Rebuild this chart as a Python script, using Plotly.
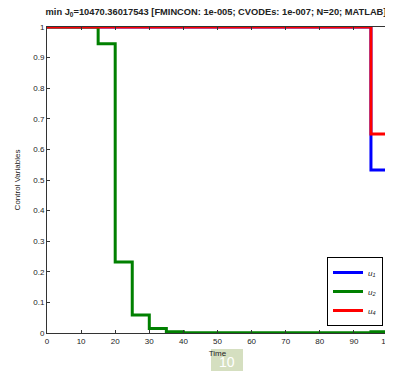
import plotly.graph_objects as go

# Time grid (N=20 intervals of length 5)
time = [0, 5, 10, 15, 20, 25, 30, 35, 40, 45, 50, 55, 60, 65, 70, 75, 80, 85, 90, 95, 100]

# Piecewise-constant control values per interval (last value repeated at end)
u1 = [1, 1, 1, 1, 1, 1, 1, 1, 1, 1, 1, 1, 1, 1, 1, 1, 1, 1, 1, 0.533, 0.533]
u2 = [1, 1, 1, 0.945, 0.232, 0.059, 0.015, 0.004, 0.001, 0.001, 0.001, 0.001, 0.001,
      0.001, 0.001, 0.001, 0.001, 0.001, 0.001, 0.004, 0.004]
u4 = [1, 1, 1, 1, 1, 1, 1, 1, 1, 1, 1, 1, 1, 1, 1, 1, 1, 1, 1, 0.65, 0.65]

series = [("u<sub>1</sub>", u1, "#0000ff"),
          ("u<sub>2</sub>", u2, "#008000"),
          ("u<sub>4</sub>", u4, "#ff0000")]

x_ticks = [0, 10, 20, 30, 40, 50, 60, 70, 80, 90, 100]
y_ticks = [0, 0.1, 0.2, 0.3, 0.4, 0.5, 0.6, 0.7, 0.8, 0.9, 1]
y_tick_text = ["0", "0.1", "0.2", "0.3", "0.4", "0.5", "0.6", "0.7", "0.8", "0.9", "1"]

fig = go.Figure()
for name, vals, col in series:
    fig.add_trace(go.Scatter(x=time, y=vals, mode="lines", line_shape="hv",
                             name="<i>" + name + "</i>",
                             line=dict(color=col, width=3)))

axis_common = dict(showline=True, linecolor="#333333", linewidth=1, mirror="ticks",
                   ticks="inside", ticklen=3, tickcolor="#333333", showgrid=False,
                   zeroline=False, tickfont=dict(size=8, color="#222222"))

# page body has an 8px margin, so the figure is sized to fit within the window
W, H = 385, 363
L, R, T, B = 39, 5, 19, 38
pw, ph = W - L - R, H - T - B

fig.update_layout(
    width=W, height=H,
    margin=dict(l=L, r=R, t=T, b=B, autoexpand=False),
    paper_bgcolor="white", plot_bgcolor="white",
    font=dict(family="Liberation Sans, Arial, sans-serif", size=8, color="#222222"),
    title=dict(text="<b>min J<sub>0</sub>=10470.36017543 [FMINCON: 1e-005; CVODEs: 1e-007; N=20; MATLAB]</b>",
               x=(216 - 8) / W, xanchor="center", y=1 - 0.5 / H, yanchor="top",
               font=dict(size=9.3, color="#222222")),
    xaxis=dict(range=[0, 100], tickvals=x_ticks, ticklabeloverflow="allow",
               title=dict(text="Time", standoff=5, font=dict(size=8)), **axis_common),
    yaxis=dict(range=[0, 1], tickvals=y_ticks, ticktext=y_tick_text,
               title=dict(text="Control Variables", standoff=11, font=dict(size=8)), **axis_common),
    legend=dict(x=(327 - 47) / pw, y=(333 - 257) / ph, xanchor="left", yanchor="top",
                bordercolor="black", borderwidth=1, bgcolor="white",
                font=dict(size=8), itemwidth=30, tracegroupgap=2),
    showlegend=True,
)

# page watermark box at bottom
fig.add_shape(type="rect", xref="paper", yref="paper",
              x0=(211 - 47) / pw, x1=(243 - 47) / pw,
              y0=-B / ph, y1=-(349 - 333) / ph,
              fillcolor="#d5dfc0", line=dict(width=0), layer="below")
fig.add_annotation(text="10", xref="paper", yref="paper",
                   x=(227 - 47) / pw, y=-(362 - 333) / ph, showarrow=False,
                   font=dict(size=14, color="white"), xanchor="center", yanchor="middle")

fig.write_html("out.html")
